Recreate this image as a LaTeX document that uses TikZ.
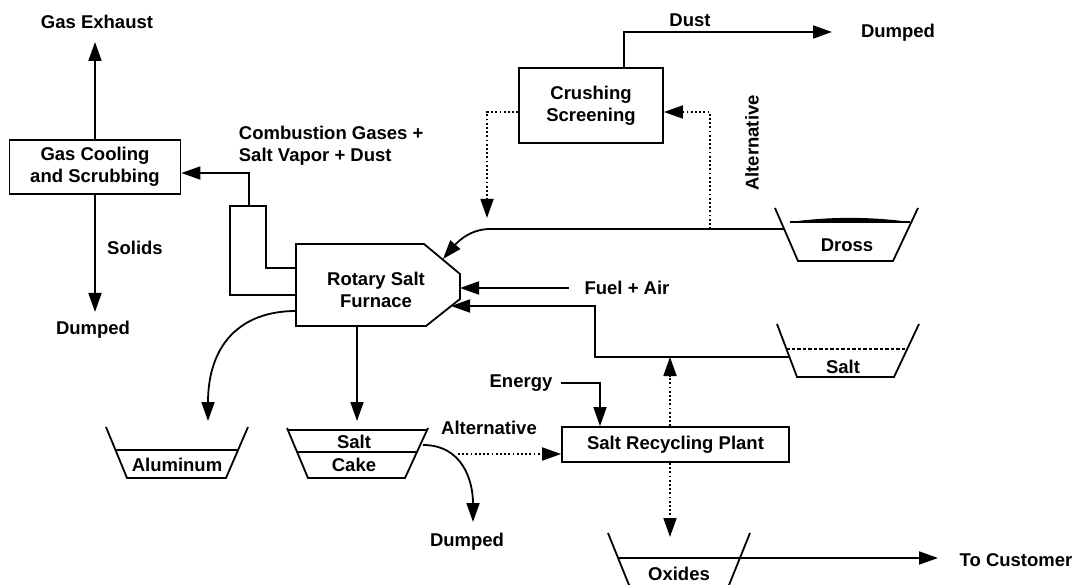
\documentclass[tikz,border=0pt]{standalone}
\usepackage{fontspec}
\setmainfont{Liberation Sans}
\usetikzlibrary{arrows.meta}
\begin{document}
\begin{tikzpicture}[x=1pt,y=-1pt,
  line width=1.8pt,
  arr/.style={-{Triangle[length=19pt,width=13pt]}},
  lbl/.style={font=\fontsize{18.5}{22}\selectfont\bfseries, inner sep=0pt},
  boxnode/.style={draw, font=\fontsize{18.5}{22}\selectfont\bfseries, align=center, inner sep=0pt},
  dots/.style={dash pattern=on 1.8pt off 2.4pt},
]
\useasboundingbox (0,0) rectangle (1079,585);

% ---------- boxes ----------
\node[boxnode, minimum width=171pt, minimum height=54pt] (gcs) at (95,167) {Gas Cooling\\and Scrubbing};
\node[boxnode, minimum width=144pt, minimum height=75pt] (crush) at (591,105.5) {Crushing\\Screening};
\node[boxnode, minimum width=227pt, minimum height=35pt] (rec) at (675.5,444.5) {Salt Recycling Plant};

% ---------- furnace ----------
\coordinate (F1) at (296,244);
\coordinate (F2) at (424,244);
\coordinate (F3) at (460,274);
\coordinate (F4) at (460,299);
\coordinate (F5) at (426,326);
\coordinate (F6) at (296,326);
\draw (F1) -- (F2) -- (F3) -- (F4) -- (F5) -- (F6) -- cycle;
\node[lbl, align=center] (furn) at (376,290) {Rotary Salt\\Furnace};

% stack
\coordinate (stacktop) at (249,206);
\draw (296,268) -- (266,268) -- (266,206) -- (230,206) -- (230,295) -- (296,295);

% ---------- labels ----------
\node[lbl] (gex) at (97,22) {Gas Exhaust};
\node[lbl] (dump1) at (93,330) {Dumped};
\node[lbl] (solids) at (135,248) {Solids};
\node[lbl, align=left, anchor=west] (comb) at (238,146) {Combustion Gases +\\Salt Vapor + Dust};
\node[lbl] (dust) at (690,20) {Dust};
\node[lbl] (dump2) at (898,33) {Dumped};
\node[lbl, rotate=90] (alt1) at (752,143) {Alternative};
\node[lbl] (fuel) at (627,288) {Fuel + Air};
\node[lbl] (energy) at (521,383) {Energy};
\node[lbl] (alt2) at (489,428) {Alternative};
\node[lbl] (dump3) at (467,542) {Dumped};
\node[lbl] (cust) at (1016,560) {To Customer};

% ---------- vessels ----------
% Aluminum
\draw (106,427) -- (127,478) -- (226,478) -- (248,427);
\draw (115.5,450) -- (238,450);
\node[lbl] (alu) at (177,465) {Aluminum};
% Salt cake
\draw (287,428) -- (308,478) -- (405,478) -- (428,428);
\draw (288,430) -- (427,430);
\draw (297,452) -- (417,452);
\node[lbl] (scsalt) at (354,442) {Salt};
\node[lbl] (sccake) at (354,465) {Cake};
% Dross
\draw (775,208) -- (798,261) -- (893,261) -- (918,208);
\fill (790,222) .. controls (830,216.5) and (870,216.5) .. (910,222) .. controls (870,221) and (830,221) .. cycle;
\draw[line width=1.2pt] (790,222) -- (910,222);
\node[lbl] (dross) at (847,245) {Dross};
% Salt
\draw (777,324) -- (797,377) -- (894,377) -- (919,324);
\draw[line width=1.2pt, dash pattern=on 3.5pt off 2pt] (786.4,349) -- (907,349);
\node[lbl] (salt) at (843,367) {Salt};
% Oxides
\draw (608,533) -- (631,590);
\draw (750,533) -- (727,590);
\node[lbl] (ox) at (679,574) {Oxides};

% ---------- connectors ----------
\draw[arr] (gcs.north) -- (gcs.north |- 0,42);
\draw[arr] (gcs.south) -- (gcs.south |- 0,312);
\draw[arr] (stacktop) |- ([yshift=-6pt]gcs.east);

\coordinate (dusttip) at (832,32);
\draw[arr] ([xshift=33pt]crush.north) |- (dusttip);

\coordinate (drossout) at (784,229);
\coordinate (drossin) at (443,259);
\draw[arr] (drossout) -- (490,229) .. controls (468,229) and (455,245) .. (drossin);

\draw[dots,arr] ([yshift=-6.5pt]crush.west) -| (487,218);
\draw[dots,arr] (710,229) |- ([yshift=-6.5pt]crush.east);

\draw[arr, shorten <=15pt] (fuel.west) -- (fuel.west -| F3);

\coordinate (saltout) at (789.5,357);
\coordinate (saltin) at (451,306);
\draw[arr] (saltout) -- (595,357) |- (saltin);

\draw[arr] (F6 -| 357,0) -- (357,421);
\draw[arr] (296,311) .. controls (240,311) and (208,345) .. (208,421);

\draw[arr] (423,445) .. controls (462,445) and (473,480) .. (473,522);
\draw[dots,arr] (458,454) -- ([yshift=-9.5pt]rec.west);

\draw[arr, shorten <=8pt] (energy.east) -| ([xshift=-75.5pt]rec.north);
\draw[dots,arr] ([xshift=-5.5pt]rec.north) -- (670,357);
\draw[dots,arr] ([xshift=-5.5pt]rec.south) -- (670,537);

\draw[arr] (619,558) -- (938,558);
\end{tikzpicture}
\end{document}
